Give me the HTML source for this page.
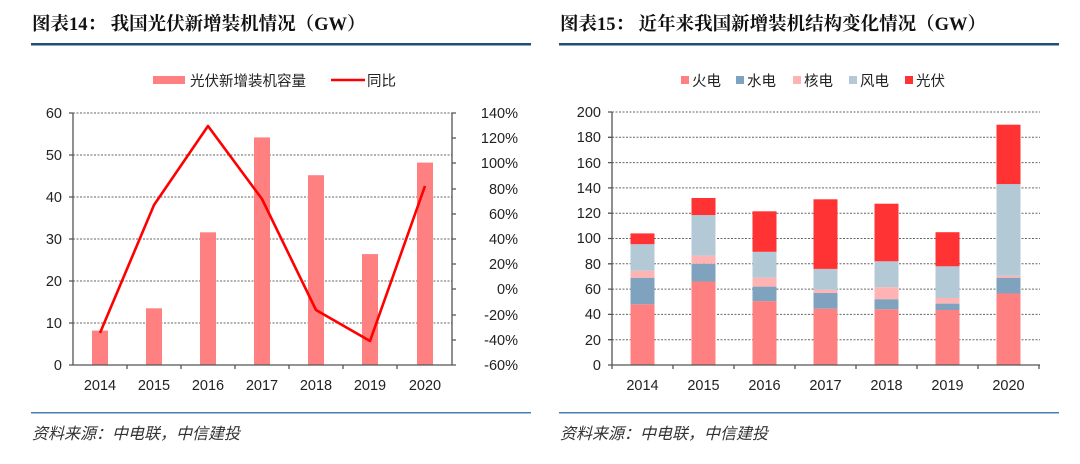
<!DOCTYPE html><html><head><meta charset="utf-8"><style>
body{margin:0;background:#fff;width:1080px;height:464px;overflow:hidden}
svg{display:block}
text{font-family:"Liberation Sans","Noto Sans CJK SC",sans-serif;fill:#222}
.t{font-family:"Liberation Serif","Noto Serif CJK SC",serif;font-weight:bold;font-size:18.5px;fill:#111}
.s{font-family:"Liberation Serif","Noto Sans CJK SC",serif;font-style:italic;font-size:16px;fill:#333}
.g{stroke:#666;stroke-width:1;stroke-dasharray:2,1.5}
.a{stroke:#555;stroke-width:1.3;fill:none}
.n{font-size:14.5px}
</style></head><body>
<svg width="1080" height="464" xmlns="http://www.w3.org/2000/svg">
<text class="t" x="32" y="30">图表14：   我国光伏新增装机情况（GW）</text>
<text class="t" x="560" y="30">图表15：   近年来我国新增装机结构变化情况（GW）</text>
<rect x="31" y="43" width="500" height="2.5" fill="#1f4e79"/>
<rect x="559" y="43" width="500" height="2.5" fill="#1f4e79"/>
<rect x="31" y="412" width="500" height="1.5" fill="#4a7fb0"/>
<rect x="559" y="412" width="500" height="1.5" fill="#4a7fb0"/>
<text class="s" x="32" y="439">资料来源：中电联，中信建投</text>
<text class="s" x="560" y="439">资料来源：中电联，中信建投</text>

<rect x="153" y="76" width="32" height="8" fill="#ff8080"/>
<text x="190" y="86" font-size="14.5">光伏新增装机容量</text>
<line x1="331" y1="80" x2="365" y2="80" stroke="#f00" stroke-width="2.5"/>
<text x="367" y="86" font-size="14.5">同比</text>

<g class="g">
<line x1="73" y1="113" x2="452" y2="113"/><line x1="73" y1="155" x2="452" y2="155"/><line x1="73" y1="197" x2="452" y2="197"/><line x1="73" y1="239" x2="452" y2="239"/><line x1="73" y1="281" x2="452" y2="281"/><line x1="73" y1="323" x2="452" y2="323"/>
</g>
<g fill="#ff8080">
<rect x="92" y="330.6" width="16" height="34.4"/>
<rect x="146" y="308.3" width="16" height="56.7"/>
<rect x="200" y="232.3" width="16" height="132.7"/>
<rect x="254" y="137.4" width="16" height="227.6"/>
<rect x="308" y="175.2" width="16" height="189.8"/>
<rect x="362" y="254.1" width="16" height="110.9"/>
<rect x="417" y="162.6" width="16" height="202.4"/>
</g>
<polyline points="100,333 154,205 208,126 262,199 316,310 370,341 425,186" fill="none" stroke="#f00" stroke-width="2.6" stroke-linejoin="round"/>
<path class="a" d="M73,113V365H452V113 M69,113H73 M69,155H73 M69,197H73 M69,239H73 M69,281H73 M69,323H73 M69,365H73 M452,113H456 M452,138H456 M452,163H456 M452,189H456 M452,214H456 M452,239H456 M452,264H456 M452,289H456 M452,315H456 M452,340H456 M452,365H456 M127,365V369 M181,365V369 M235,365V369 M289,365V369 M343,365V369 M397,365V369"/>
<g class="n" text-anchor="end">
<text x="62" y="118">60</text><text x="62" y="160">50</text><text x="62" y="202">40</text><text x="62" y="244">30</text><text x="62" y="286">20</text><text x="62" y="328">10</text><text x="62" y="370">0</text>
</g>
<g class="n" text-anchor="end">
<text x="518" y="118">140%</text><text x="518" y="143">120%</text><text x="518" y="168">100%</text><text x="518" y="194">80%</text><text x="518" y="219">60%</text><text x="518" y="244">40%</text><text x="518" y="269">20%</text><text x="518" y="294">0%</text><text x="518" y="320">-20%</text><text x="518" y="345">-40%</text><text x="518" y="370">-60%</text>
</g>
<g class="n" text-anchor="middle">
<text x="100" y="390">2014</text><text x="154" y="390">2015</text><text x="208" y="390">2016</text><text x="262" y="390">2017</text><text x="316" y="390">2018</text><text x="370" y="390">2019</text><text x="425" y="390">2020</text>
</g>

<rect x="681" y="76" width="8" height="8" fill="#ff8080"/><text x="692" y="86" font-size="14.5">火电</text>
<rect x="736" y="76" width="8" height="8" fill="#7fa3bf"/><text x="747" y="86" font-size="14.5">水电</text>
<rect x="793" y="76" width="8" height="8" fill="#ffb3b3"/><text x="804" y="86" font-size="14.5">核电</text>
<rect x="849" y="76" width="8" height="8" fill="#b4c9d6"/><text x="860" y="86" font-size="14.5">风电</text>
<rect x="905" y="76" width="8" height="8" fill="#ff3333"/><text x="916" y="86" font-size="14.5">光伏</text>

<g class="g">
<line x1="612" y1="112" x2="1040" y2="112"/><line x1="612" y1="137.3" x2="1040" y2="137.3"/><line x1="612" y1="162.6" x2="1040" y2="162.6"/><line x1="612" y1="187.9" x2="1040" y2="187.9"/><line x1="612" y1="213.2" x2="1040" y2="213.2"/><line x1="612" y1="238.5" x2="1040" y2="238.5"/><line x1="612" y1="263.8" x2="1040" y2="263.8"/><line x1="612" y1="289.1" x2="1040" y2="289.1"/><line x1="612" y1="314.4" x2="1040" y2="314.4"/><line x1="612" y1="339.7" x2="1040" y2="339.7"/>
</g>
<g>
<rect x="630.5" y="304.3" width="24" height="60.7" fill="#ff8080"/>
<rect x="630.5" y="277.7" width="24" height="26.6" fill="#7fa3bf"/>
<rect x="630.5" y="270.8" width="24" height="6.9" fill="#ffb3b3"/>
<rect x="630.5" y="244.2" width="24" height="26.6" fill="#b4c9d6"/>
<rect x="630.5" y="233.4" width="24" height="10.8" fill="#ff3333"/>
<rect x="691.5" y="281.5" width="24" height="83.5" fill="#ff8080"/>
<rect x="691.5" y="263.8" width="24" height="17.7" fill="#7fa3bf"/>
<rect x="691.5" y="255.6" width="24" height="8.2" fill="#ffb3b3"/>
<rect x="691.5" y="215.1" width="24" height="40.5" fill="#b4c9d6"/>
<rect x="691.5" y="198" width="24" height="17.1" fill="#ff3333"/>
<rect x="752.5" y="301.1" width="24" height="63.9" fill="#ff8080"/>
<rect x="752.5" y="286.6" width="24" height="14.5" fill="#7fa3bf"/>
<rect x="752.5" y="277.7" width="24" height="8.9" fill="#ffb3b3"/>
<rect x="752.5" y="251.8" width="24" height="25.9" fill="#b4c9d6"/>
<rect x="752.5" y="211.3" width="24" height="40.5" fill="#ff3333"/>
<rect x="813.5" y="308.7" width="24" height="56.3" fill="#ff8080"/>
<rect x="813.5" y="292.9" width="24" height="15.8" fill="#7fa3bf"/>
<rect x="813.5" y="289.7" width="24" height="3.2" fill="#ffb3b3"/>
<rect x="813.5" y="268.9" width="24" height="20.8" fill="#b4c9d6"/>
<rect x="813.5" y="199.3" width="24" height="69.6" fill="#ff3333"/>
<rect x="874.5" y="309.3" width="24" height="55.7" fill="#ff8080"/>
<rect x="874.5" y="299.2" width="24" height="10.1" fill="#7fa3bf"/>
<rect x="874.5" y="287.2" width="24" height="12" fill="#ffb3b3"/>
<rect x="874.5" y="261.3" width="24" height="25.9" fill="#b4c9d6"/>
<rect x="874.5" y="203.7" width="24" height="57.6" fill="#ff3333"/>
<rect x="935.5" y="310" width="24" height="55" fill="#ff8080"/>
<rect x="935.5" y="303.6" width="24" height="6.4" fill="#7fa3bf"/>
<rect x="935.5" y="298" width="24" height="5.6" fill="#ffb3b3"/>
<rect x="935.5" y="266.3" width="24" height="31.7" fill="#b4c9d6"/>
<rect x="935.5" y="232.2" width="24" height="34.1" fill="#ff3333"/>
<rect x="996.5" y="293.5" width="24" height="71.5" fill="#ff8080"/>
<rect x="996.5" y="277.7" width="24" height="15.8" fill="#7fa3bf"/>
<rect x="996.5" y="275.8" width="24" height="1.9" fill="#ffb3b3"/>
<rect x="996.5" y="184.1" width="24" height="91.7" fill="#b4c9d6"/>
<rect x="996.5" y="124.7" width="24" height="59.4" fill="#ff3333"/>
</g>
<path class="a" d="M612,112V365H1040 M608,112H612 M608,137.3H612 M608,162.6H612 M608,187.9H612 M608,213.2H612 M608,238.5H612 M608,263.8H612 M608,289.1H612 M608,314.4H612 M608,339.7H612 M608,365H612 M612,365V369 M673,365V369 M734,365V369 M795,365V369 M856,365V369 M917,365V369 M978,365V369 M1039,365V369"/>
<g class="n" text-anchor="end">
<text x="601" y="117">200</text><text x="601" y="142">180</text><text x="601" y="168">160</text><text x="601" y="193">140</text><text x="601" y="218">120</text><text x="601" y="243">100</text><text x="601" y="269">80</text><text x="601" y="294">60</text><text x="601" y="319">40</text><text x="601" y="345">20</text><text x="601" y="370">0</text>
</g>
<g class="n" text-anchor="middle">
<text x="642.5" y="390">2014</text><text x="703.5" y="390">2015</text><text x="764.5" y="390">2016</text><text x="825.5" y="390">2017</text><text x="886.5" y="390">2018</text><text x="947.5" y="390">2019</text><text x="1008.5" y="390">2020</text>
</g>
</svg>
</body></html>
